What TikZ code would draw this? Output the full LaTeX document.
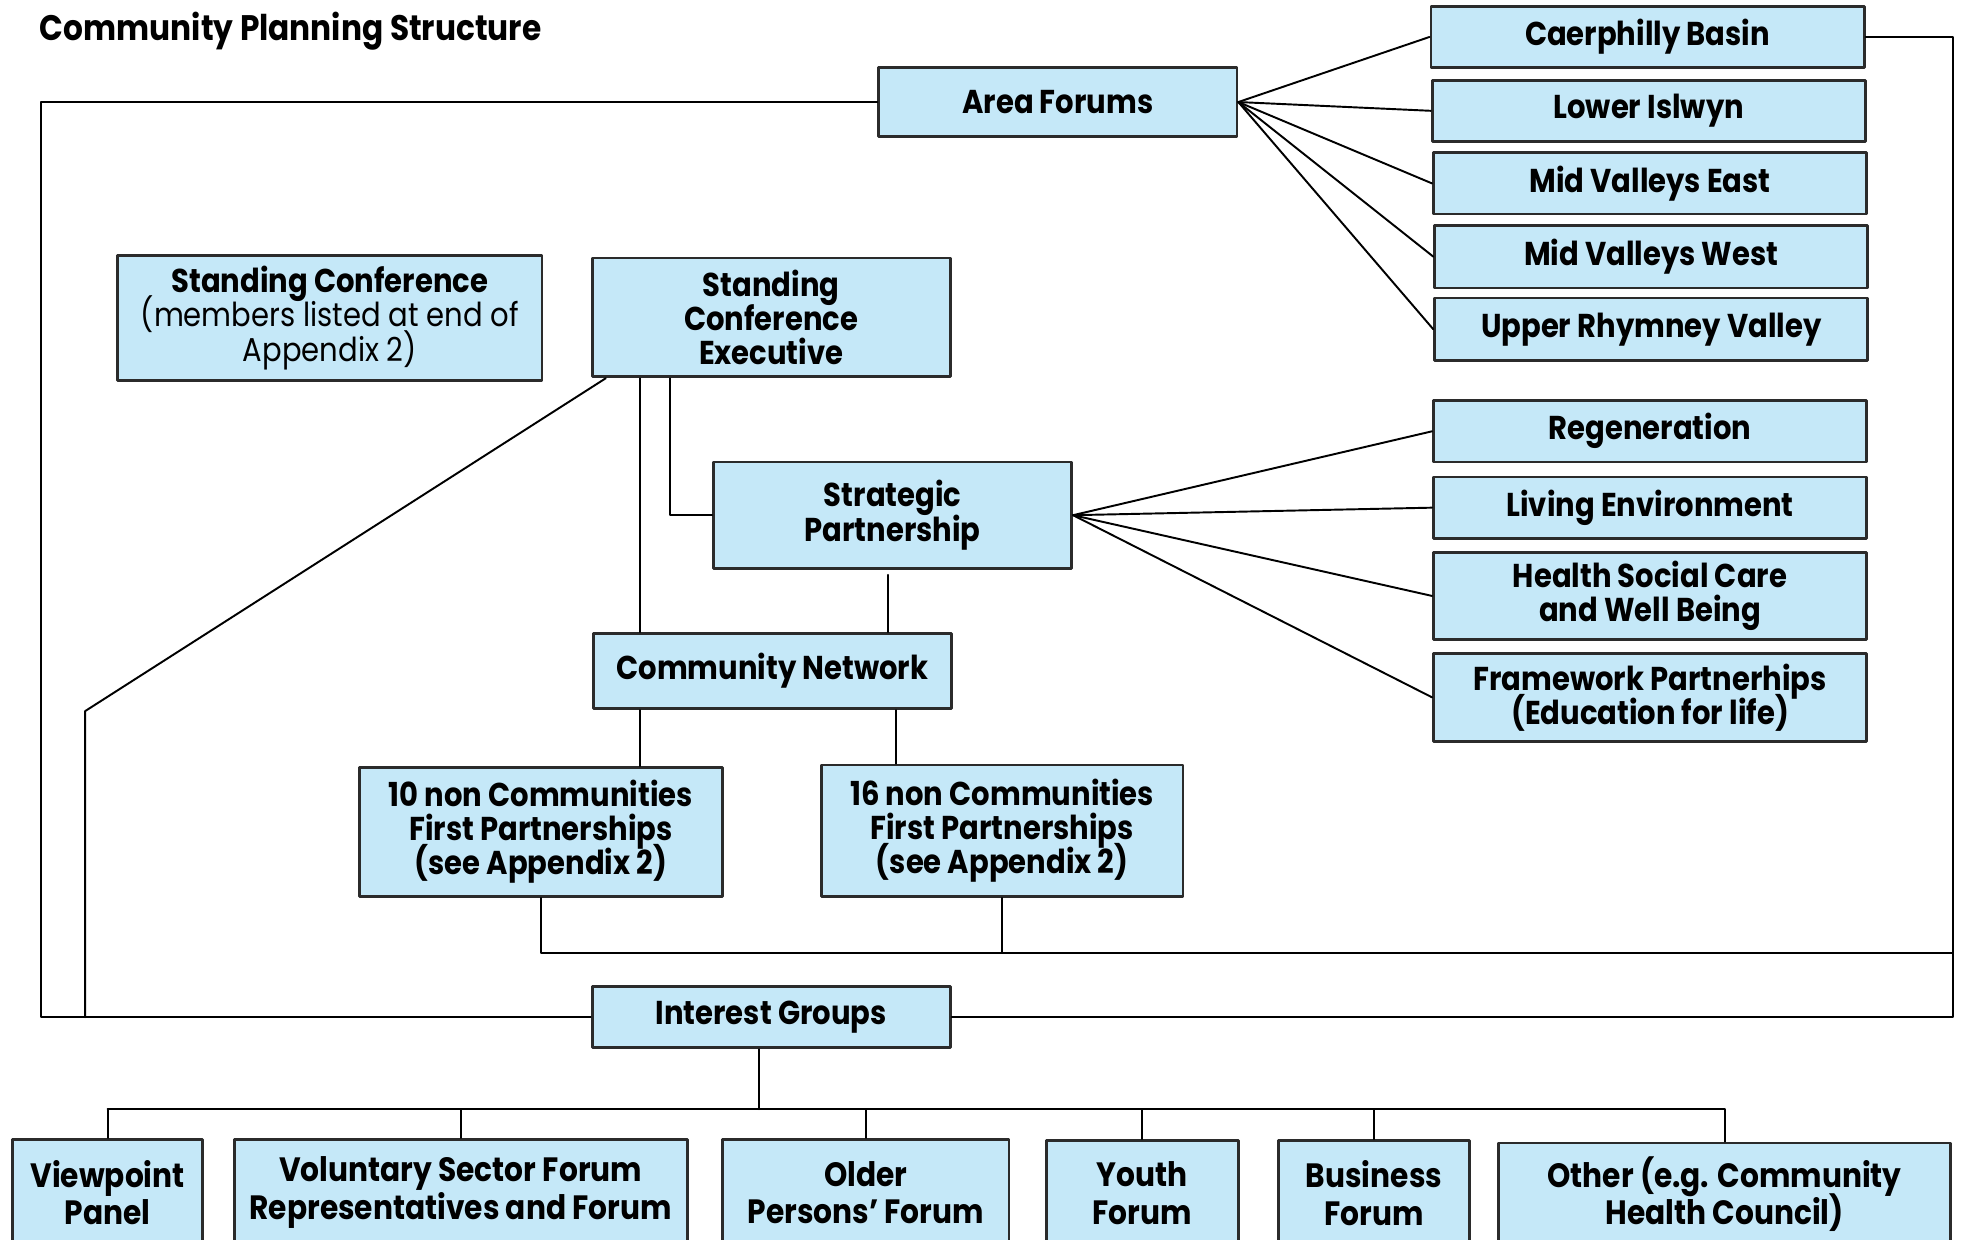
\documentclass[tikz,border=0pt]{standalone}
\usepackage{fontspec}
\setmainfont{Poppins}[FakeStretch=0.88]
\usetikzlibrary{calc,positioning}
\definecolor{boxfill}{HTML}{C5E8F8}
\definecolor{boxline}{HTML}{2B2B2B}
\def\px{0.01252cm}
\tikzset{
  OrgBox/.style={
    draw=boxline, fill=boxfill, line width=0.8pt,
    align=center, inner sep=0pt,
    font=\fontsize{9.4}{9.7}\selectfont\bfseries,
    execute at begin node={\setlength{\lineskiplimit}{-20pt}}
  },
  RowBox/.style={font=\fontsize{9.6}{10.6}\selectfont\bfseries},
  Link/.style={draw=black, line width=0.55pt}
}
\newcommand{\PlanBox}[7][]{%
  % #1 = extra node options, #2 = node name
  % #3,#4 = top left corner, #5,#6 = bottom right corner, #7 = text
  \node[OrgBox, #1, minimum width={(#5-#3)*\px}, minimum height={(#6-#4)*\px}]
    (#2) at ({(#3+#5)/2},{(#4+#6)/2}) {#7};
}

\begin{document}
\begin{tikzpicture}[x=0.01252cm, y=-0.01252cm, line cap=round, line join=round]
  \useasboundingbox (0,0) rectangle (1568,990);
  \clip (0,0) rectangle (1568,990);

  \node[anchor=west, font=\fontsize{10.1}{12}\selectfont\bfseries] (title) at (22,25) {Community Planning Structure};

  % area forums
  \PlanBox{area}{702}{54}{988}{109}{Area Forums}
  \PlanBox{cb}{1143}{5}{1489}{54}{Caerphilly Basin}
  \PlanBox{li}{1144}{64}{1490}{113}{Lower Islwyn}
  \PlanBox{mve}{1145}{122}{1491}{171}{Mid Valleys East}
  \PlanBox{mvw}{1146}{180}{1492}{230}{Mid Valleys West}
  \PlanBox{urv}{1146}{238}{1492}{288}{Upper Rhymney Valley}

  % conference and partnership
  \PlanBox{sc}{94}{204}{433}{304}{Standing Conference\\{\mdseries (members listed at end of}\\{\mdseries Appendix 2)}}
  \PlanBox{sce}{473}{206}{759}{301}{Standing\\Conference\\Executive}
  \PlanBox{sp}{570}{369}{856}{454}{Strategic\\Partnership}
  \PlanBox{reg}{1145}{320}{1491}{369}{Regeneration}
  \PlanBox{liv}{1145}{381}{1491}{430}{Living Environment}
  \PlanBox{hsc}{1145}{441}{1491}{511}{Health Social Care\\and Well Being}
  \PlanBox{fwp}{1145}{522}{1491}{592}{Framework Partnerhips\\(Education for life)}

  % network
  \PlanBox{cn}{474}{506}{760}{566}{Community Network}
  \PlanBox{ten}{287}{613}{577}{716}{10 non Communities\\First Partnerships\\(see Appendix 2)}
  \PlanBox{six}{656}{611}{945}{716}{16 non Communities\\First Partnerships\\(see Appendix 2)}

  % interest groups
  \PlanBox{ig}{473}{788}{759}{837}{Interest Groups}
  \PlanBox[RowBox]{vp}{10}{910}{162}{995}{Viewpoint\\Panel}
  \PlanBox[RowBox]{vol}{187}{910}{549}{995}{Voluntary Sector Forum\\Representatives and Forum}
  \PlanBox[RowBox]{old}{577}{910}{806}{995}{Older\\Persons’ Forum}
  \PlanBox[RowBox]{yth}{836}{911}{989}{995}{Youth\\Forum}
  \PlanBox[RowBox]{bus}{1021}{911}{1174}{995}{Business\\Forum}
  \PlanBox[RowBox]{oth}{1197}{913}{1558}{995}{Other (e.g. Community\\Health Council)}

  % loop coordinates
  \coordinate (loopSW) at (33,812.5);
  \coordinate (diagFoot) at (68,568);
  \coordinate (diagEnd) at (68,812.5);
  \coordinate (loopSE) at (1560,812.5);
  \coordinate (busR) at (1560,761);
  \coordinate (busG) at (606,886);

  % fans
  \foreach \n in {cb,li,mve,mvw,urv}
    \draw[Link] (area.east) -- (\n.west);
  \foreach \n in {reg,liv,hsc,fwp}
    \draw[Link] (sp.east) -- (\n.west);

  % outer loops
  \draw[Link] (area.west) -| (loopSW) -- (ig.west);
  \draw[Link] ($(sce.south west)+(12,0)$) -- (diagFoot) -- (diagEnd);
  \draw[Link] (cb.east) -| (loopSE) -- (ig.east);

  % executive, partnership and network
  \draw[Link] ($(sce.south west)+(39,0)$) -- ($(cn.north west)+(38,0)$);
  \draw[Link] ($(sce.south west)+(63,0)$) |- (sp.west);
  \draw[Link] ($(sp.south)+(-4,4)$) -- ($(sp.south |- cn.north)+(-4,0)$);
  \draw[Link] ($(cn.south west)+(38,0)$) -- ($(ten.north west)+(225,0)$);
  \draw[Link] ($(cn.south west)+(243,0)$) -- ($(six.north west)+(61,0)$);
  \draw[Link] (ten.south) |- (busR);
  \draw[Link] (six.south) -- (six.south |- busR);

  % interest group bus
  \draw[Link] ($(ig.south)+(-10,0)$) -- (busG);
  \draw[Link] (vp.north |- busG) -- (oth.north |- busG);
  \foreach \n in {vp,vol,old,yth,bus,oth}
    \draw[Link] (\n.north) -- (\n.north |- busG);
\end{tikzpicture}
\end{document}
